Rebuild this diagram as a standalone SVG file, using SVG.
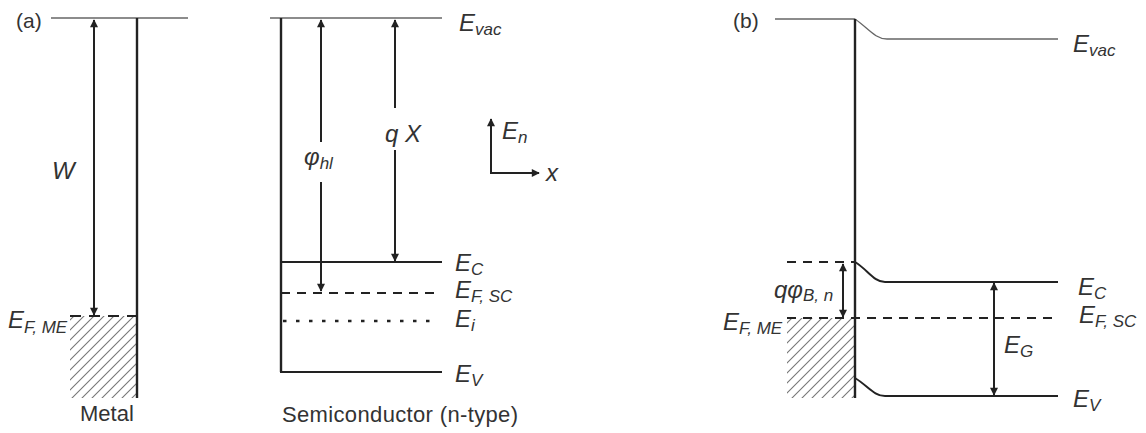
<svg xmlns="http://www.w3.org/2000/svg" width="1146" height="433" viewBox="0 0 1146 433">
<style>
  .thin{stroke:#666;stroke-width:1.3;fill:none}
  .thick{stroke:#222;stroke-width:2.4;fill:none}
  .band{stroke:#222;stroke-width:2;fill:none}
  .dash{stroke:#222;stroke-width:2;stroke-dasharray:9 7;fill:none}
  .dot{stroke:#222;stroke-width:2.6;stroke-dasharray:3.5 9.5;fill:none}
  .arr{stroke:#222;stroke-width:2;fill:none;marker-start:url(#ah);marker-end:url(#ah)}
  .arr1{stroke:#222;stroke-width:2;fill:none;marker-end:url(#ah)}
  .lbl{font-family:"Liberation Sans",Arial,sans-serif;font-style:italic;font-size:24px;fill:#333}
  .sub{font-size:17px}
  .txt{font-family:"Liberation Sans",Arial,sans-serif;font-size:21px;fill:#333}
</style>
<defs>
  <marker id="ah" viewBox="0 0 10 10" refX="9" refY="5" markerWidth="9" markerHeight="8" markerUnits="userSpaceOnUse" orient="auto-start-reverse">
    <path d="M0,0 L10,5 L0,10 z" fill="#222"/>
  </marker>
  <pattern id="hatch" patternUnits="userSpaceOnUse" width="10" height="10">
    <path d="M0,10 L10,0 M-2,2 L2,-2 M8,12 L12,8" stroke="#777" stroke-width="1.1"/>
  </pattern>
</defs>

<!-- Panel (a) metal -->
<g id="metal">
  <rect x="70" y="316" width="67" height="82" fill="url(#hatch)"/>
  <line class="thin" x1="51" y1="18" x2="188" y2="18"/>
  <line class="thick" x1="137" y1="18" x2="137" y2="398"/>
  <line class="dash" x1="70" y1="316" x2="137" y2="316" style="stroke-dasharray:11 8"/>
  <text class="txt" x="16" y="28">(a)</text>
  <text class="lbl" x="52" y="179">W</text>
  <text class="lbl" x="8" y="328">E<tspan class="sub" dy="5">F, ME</tspan></text>
  <text class="txt" x="80" y="421" style="font-size:22px">Metal</text>
</g>

<!-- Panel (a) semiconductor -->
<g id="semiconductor">
  <line class="thin" x1="270" y1="18" x2="442" y2="18"/>
  <line class="thick" x1="281" y1="18" x2="281" y2="372"/>
  <line class="band" x1="281" y1="262" x2="442" y2="262"/>
  <line class="dash" x1="281" y1="293" x2="438" y2="293"/>
  <line class="dot" x1="283" y1="321" x2="434" y2="321"/>
  <line class="band" x1="280" y1="372" x2="442" y2="372"/>
  <text class="lbl" x="459" y="31">E<tspan class="sub" dy="4">vac</tspan></text>
  <text class="lbl" x="455" y="271">E<tspan class="sub" dy="4">C</tspan></text>
  <text class="lbl" x="455" y="298">E<tspan class="sub" dy="4">F, SC</tspan></text>
  <text class="lbl" x="455" y="327">E<tspan class="sub" dy="4">i</tspan></text>
  <text class="lbl" x="455" y="382">E<tspan class="sub" dy="4">V</tspan></text>
  <text class="lbl" x="304" y="165">φ<tspan class="sub" dy="4">hl</tspan></text>
  <text class="lbl" x="385" y="142">q X</text>
  <text class="txt" x="282" y="422" style="font-size:22px" textLength="236">Semiconductor (n-type)</text>
</g>

<!-- Axes -->
<g id="axes">
  <polyline class="band" points="491,122 491,173 537,173" style="stroke-width:2"/>
  <line class="arr1" x1="491" y1="140" x2="491" y2="119"/>
  <line class="arr1" x1="520" y1="173" x2="539" y2="173"/>
  <text class="lbl" x="502" y="139">E<tspan class="sub" dy="4">n</tspan></text>
  <text class="lbl" x="546" y="181">x</text>
</g>

<!-- Panel (b) -->
<g id="junction">
  <rect x="787" y="318" width="68" height="80" fill="url(#hatch)"/>
  <line class="thin" x1="775" y1="19" x2="855" y2="19"/>
  <path class="thin" d="M855,19 C868,28 875,39 887,39 L1058,39"/>
  <line class="thick" x1="855" y1="19" x2="855" y2="398"/>
  <path class="band" d="M855,262 C868,270 874,282 885,282 L1058,282"/>
  <path class="band" d="M855,378 C868,386 874,396 885,396 L1058,396"/>
  <line class="dash" x1="787" y1="262" x2="855" y2="262"/>
  <line class="dash" x1="787" y1="318" x2="1054" y2="318"/>
  <text class="txt" x="733" y="28">(b)</text>
  <text class="lbl" x="1073" y="52">E<tspan class="sub" dy="4">vac</tspan></text>
  <text class="lbl" x="1078" y="295">E<tspan class="sub" dy="4">C</tspan></text>
  <text class="lbl" x="1079" y="323">E<tspan class="sub" dy="4">F, SC</tspan></text>
  <text class="lbl" x="1004" y="353">E<tspan class="sub" dy="4">G</tspan></text>
  <text class="lbl" x="1073" y="407">E<tspan class="sub" dy="4">V</tspan></text>
  <text class="lbl" x="774" y="298">qφ<tspan class="sub" dy="3">B, n</tspan></text>
  <text class="lbl" x="723" y="330">E<tspan class="sub" dy="4">F, ME</tspan></text>
</g>

<!-- Connectors (arrows) -->
<g id="connectors">
  <line class="arr" x1="94" y1="20" x2="94" y2="315"/>
  <line class="arr1" x1="321" y1="142" x2="321" y2="20"/>
  <line class="arr1" x1="321" y1="182" x2="321" y2="291"/>
  <line class="arr1" x1="395" y1="108" x2="395" y2="20"/>
  <line class="arr1" x1="395" y1="150" x2="395" y2="261"/>
  <line class="arr" x1="843" y1="264" x2="843" y2="317"/>
  <line class="arr" x1="994" y1="283" x2="994" y2="395"/>
</g>
</svg>
